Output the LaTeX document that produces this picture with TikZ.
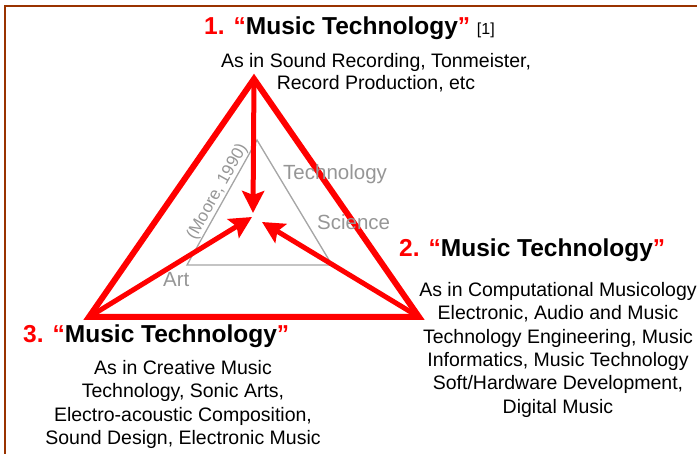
\documentclass[tikz,border=0pt]{standalone}
\usepackage{fontspec}
\setmainfont{Liberation Sans}
\usetikzlibrary{arrows.meta, calc, positioning}
\definecolor{framebrown}{RGB}{153,51,0}
\definecolor{labelgray}{RGB}{150,150,150}
\definecolor{edgegray}{RGB}{165,165,165}
\newcommand{\mtitle}[1]{{\color{red}\bfseries #1 “}{\bfseries Music Technology}{\color{red}\bfseries ”}}

\begin{document}
\begin{tikzpicture}[x=1pt, y=-1pt]
    \tikzset{
        heading/.style = {anchor=base west, inner sep=0pt, font=\fontsize{24.5}{28}\selectfont},
        body/.style = {anchor=north, inner sep=0pt, align=center, font=\fontsize{19.5}{23.4}\selectfont},
        corner/.style = {labelgray, anchor=base west, inner sep=0pt, font=\fontsize{20.5}{24}\selectfont},
        outer/.style = {draw=red, line width=6pt, line join=miter},
        inner/.style = {draw=edgegray, line width=1.3pt},
        line/.style = {-{Stealth[length=22pt, width=22pt, inset=4pt]}, red, line width=5pt}
    }
    \useasboundingbox (0,0) rectangle (697,454);

    % frame
    \draw[framebrown, line width=2pt] (5,454) -- (5,6.5) -- (697,6.5);

    % red triangle
    \coordinate (top) at (254,79);
    \coordinate (left) at (89,317);
    \coordinate (right) at (419,317);
    \draw[outer] (top) -- (left) -- (right) -- cycle;

    % gray triangle
    \coordinate (itop) at (257,140);
    \coordinate (ileft) at (187,265);
    \coordinate (iright) at (332,265);
    \draw[inner] (itop) -- (ileft) -- (iright) -- cycle;
    \path (ileft) -- node[sloped, above, pos=0.55, labelgray, inner sep=1pt,
        font=\fontsize{17}{20}\selectfont] (moore) {(Moore, 1990)} (itop);

    \node[corner] (tech) at (283,180) {Technology};
    \node[corner] (sci) at (317,230) {Science};
    \node[corner] (art) at (163,287) {Art};

    % arrows to the middle
    \coordinate (tipA) at (253,213);
    \coordinate (tipB) at (252,217);
    \coordinate (tipC) at (262,222);
    \draw[line] (top) -- (tipA);
    \draw[line] (left) -- (tipB);
    \draw[line] (right) -- (tipC);

    % 1
    \node[heading] (title1) at (204,35) {\mtitle{1.} {\fontsize{16}{18}\selectfont [1]}};
    \node[body, font=\fontsize{19.5}{22}\selectfont] (body1) at (376,53)
        {As in Sound Recording, Tonmeister,\\Record Production, etc};

    % 2
    \node[heading] (title2) at (399,257) {\mtitle{2.}};
    \node[body] (body2) at (558,282)
        {As in Computational Musicology\\Electronic, Audio and Music\\Technology Engineering, Music\\Informatics, Music Technology\\Soft/Hardware Development,\\Digital Music};

    % 3
    \node[heading] (title3) at (23,343) {\mtitle{3.}};
    \node[body] (body3) at (183,360)
        {As in Creative Music\\Technology, Sonic Arts,\\Electro-acoustic Composition,\\Sound Design, Electronic Music};
\end{tikzpicture}
\end{document}
